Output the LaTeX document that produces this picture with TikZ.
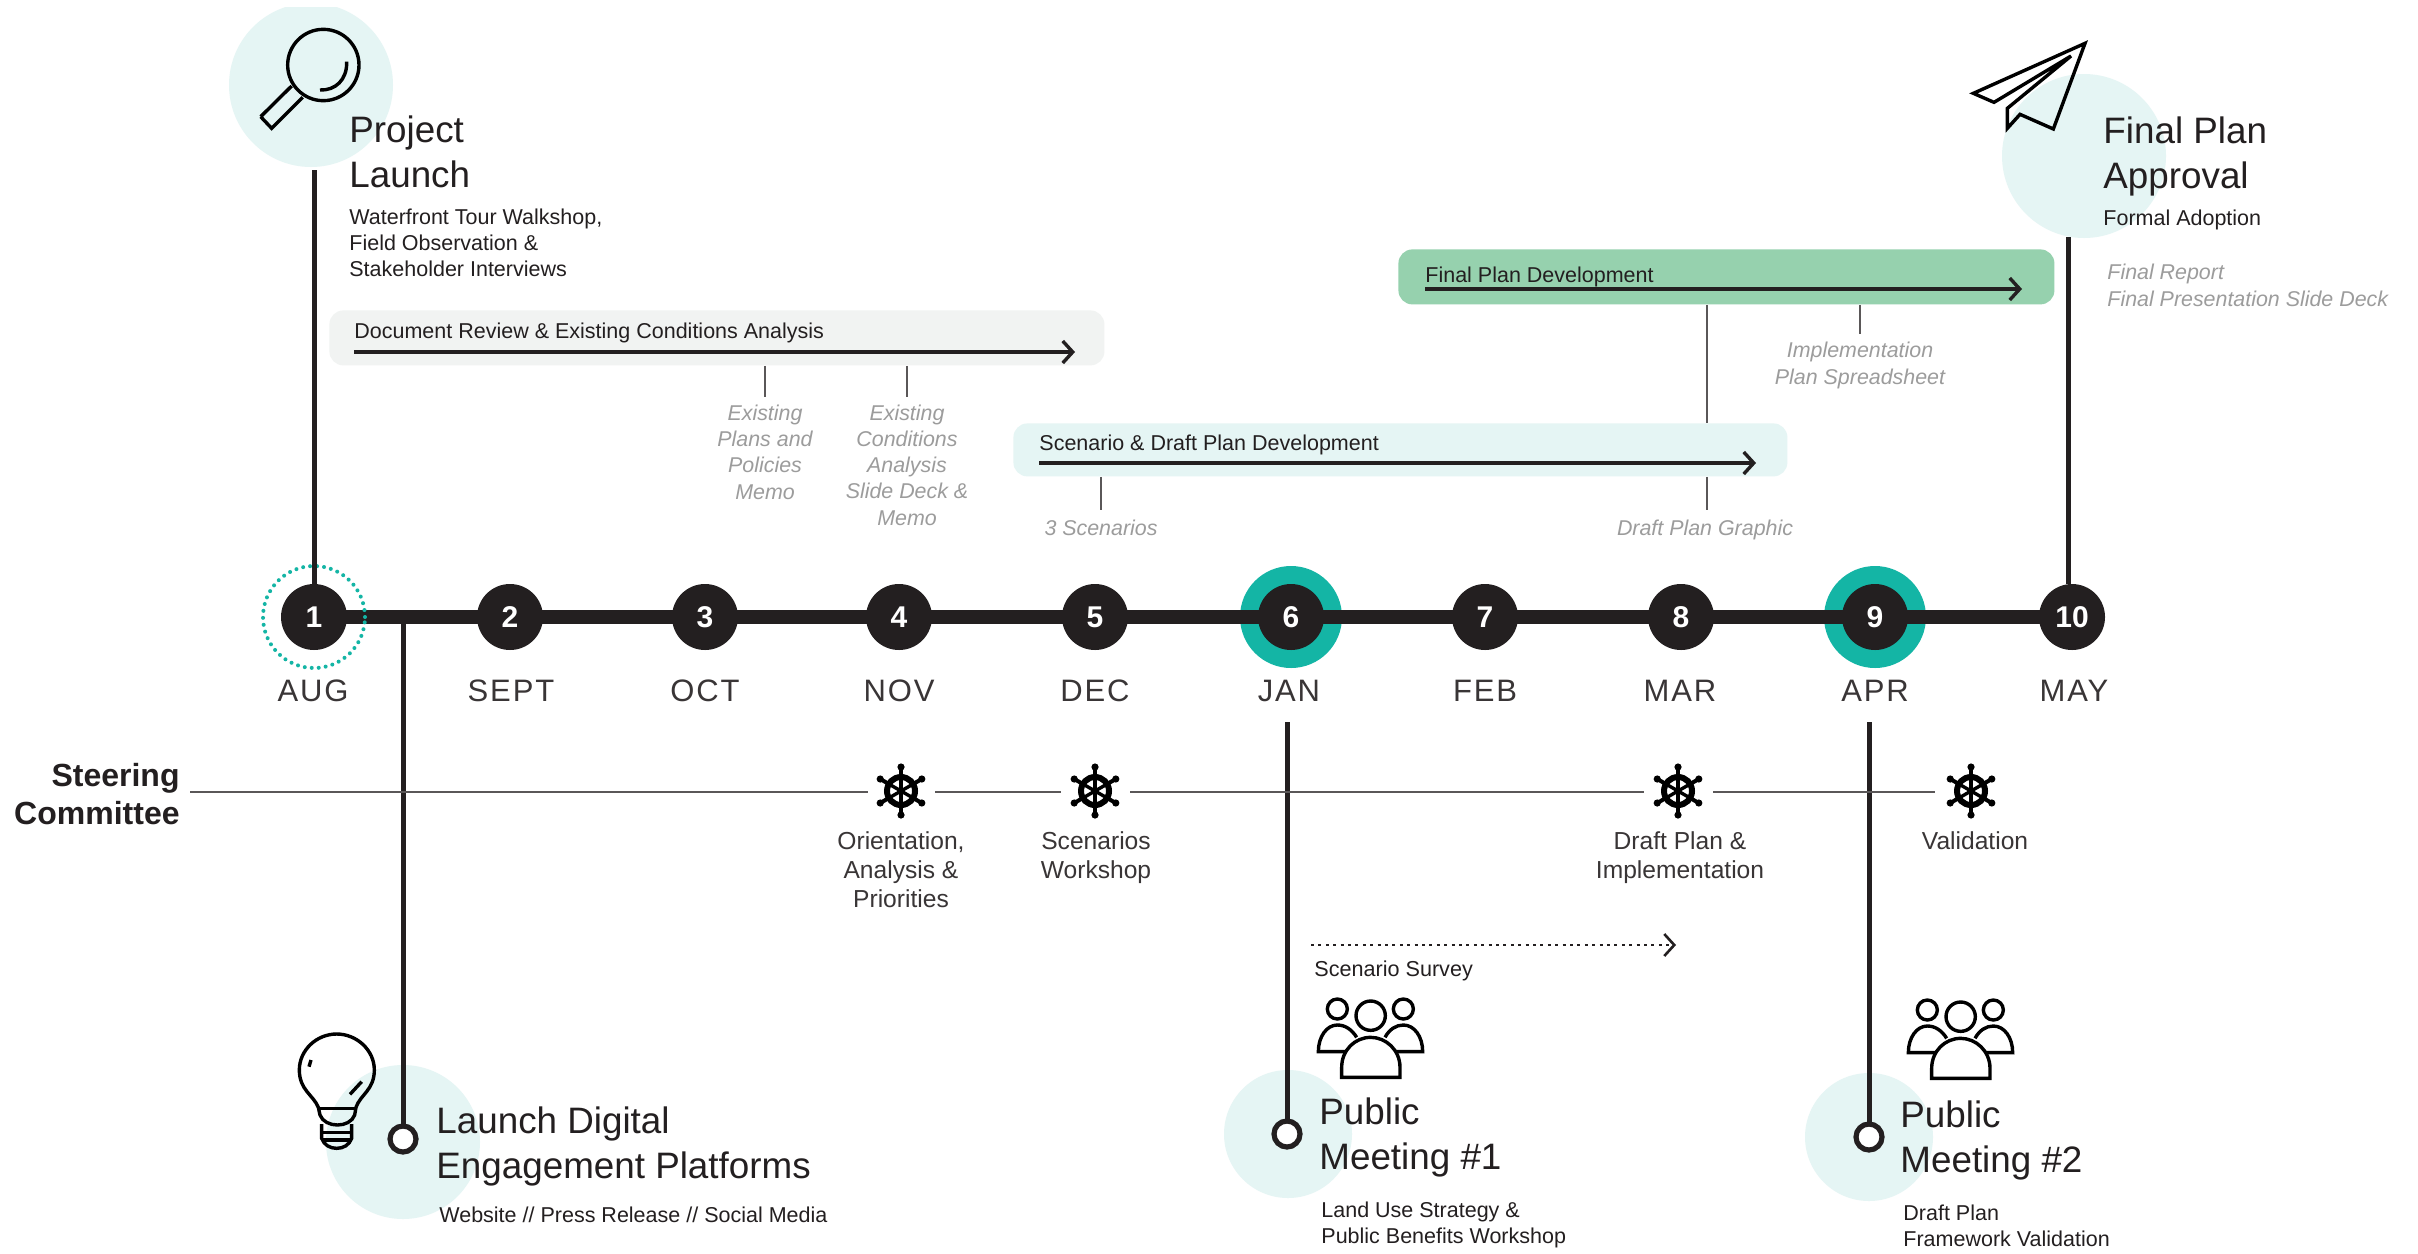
\documentclass[tikz,border=0pt]{standalone}
\usepackage{fontspec}
\setmainfont{Liberation Sans}
\newfontfamily\monthf[LetterSpace=6]{Liberation Sans}
\usetikzlibrary{arrows.meta}
\definecolor{ink}{HTML}{231F20}
\definecolor{teal}{HTML}{14B5A5}
\definecolor{pale}{HTML}{E5F5F4}
\definecolor{palegrey}{HTML}{F1F3F2}
\definecolor{mint}{HTML}{96D1AE}
\definecolor{note}{HTML}{9C9C9C}
\newcommand\fBig{\fontsize{18.4}{22.4}\selectfont}
\newcommand\fSub{\fontsize{10.75}{13}\selectfont}
\newcommand\fHelm{\fontsize{12.3}{14.5}\selectfont}
\newcommand\fNote{\fontsize{10.7}{13.05}\selectfont\itshape}
\tikzset{
  x=0.5pt,y=-0.5pt,
  num/.style={circle,fill=ink,text=white,minimum size=33pt,inner sep=0pt,font=\fontsize{15}{15}\selectfont\bfseries},
  mon/.style={inner sep=0pt,anchor=base,text=ink!90,font=\fontsize{15.5}{15.5}\selectfont\monthf},
  big/.style={inner sep=0pt,anchor=base west,align=left,text=ink,font=\fBig},
  sub/.style={inner sep=0pt,anchor=base west,align=left,text=ink,font=\fSub},
  notec/.style={inner sep=0pt,anchor=base,align=center,text=note,font=\fNote},
  notel/.style={inner sep=0pt,anchor=base west,align=left,text=note,font=\fNote},
  helmt/.style={inner sep=0pt,anchor=base,align=center,text=ink!90,font=\fHelm},
  bar/.style={rounded corners=7pt,inner sep=0pt,anchor=north west},
  stem/.style={draw=ink,line width=2.5pt},
  thin/.style={draw=ink!75,line width=0.6pt},
  flow/.style={draw=ink,line width=1.7pt,-{Straight Barb[length=5pt,width=11pt,line width=1.7pt]}},
  ring/.style={circle,draw=ink,line width=2.6pt,fill=white,minimum size=13pt,inner sep=0pt,outer sep=0pt},
  icon/.style={draw=black,line width=1.7pt,line join=miter},
  helm/.pic={
    \draw[black,line width=3pt] (0,0) circle (14);
    \foreach \a in {90,30,-30,-90,210,150}{
      \draw[black,line width=1.7pt] (0,0) -- ({\a}:14);
      \draw[black,line width=2pt] ({\a}:14) -- ({\a}:25);
      \fill[black] ({\a}:24) circle (3.6);
    }
    \fill[black] (0,0) circle (2.5);
  }
}
\begin{document}
\begin{tikzpicture}
\useasboundingbox (0,0) rectangle (2418,1253);
\fill[white] (0,0) rectangle (2418,1253);
% pale discs
\begin{scope}
\clip (0,7) rectangle (2418,1253);
\fill[pale] (311,85) circle (82);
\end{scope}
\fill[pale] (2084,156) circle (82);
\fill[pale] (403,1142) circle (77);
\fill[pale] (1288,1134) circle (64);
\fill[pale] (1869,1137) circle (64);
% bars
\node[bar,fill=palegrey,minimum width=387.5pt,minimum height=27.5pt] (docbar) at (329,310) {};
\node[bar,fill=pale,minimum width=387pt,minimum height=26.5pt] (scenbar) at (1013,423) {};
\node[bar,fill=mint,minimum width=328pt,minimum height=27.5pt] (finbar) at (1398,249) {};
\node[sub,anchor=base west] (doct) at (354,338) {Document Review \& Existing Conditions Analysis};
\node[sub,anchor=base west] (scent) at (1039,450) {Scenario \& Draft Plan Development};
\node[sub,anchor=base west] (fint) at (1425,282) {Final Plan Development};
\coordinate (da) at (354,352); \coordinate (db) at (1075,352);
\coordinate (sa) at (1039,463); \coordinate (sb) at (1756,463);
\coordinate (fa) at (1425,289); \coordinate (fb) at (2022,289);
\draw[flow] (da) -- (db);
\draw[flow] (sa) -- (sb);
\draw[flow] (fa) -- (fb);
% timeline
\coordinate (tl0) at (403,617);
\node[circle,fill=teal,minimum size=51pt,inner sep=0pt] (halo6) at (1291,617) {};
\node[circle,fill=teal,minimum size=51pt,inner sep=0pt] (halo9) at (1875,617) {};
\foreach \n/\x in {1/314,2/510,3/705,4/899,5/1095,6/1291,7/1485,8/1681,9/1875,10/2072}{
  \coordinate (p\n) at (\x,617);
}
\draw[ink,line width=7pt] (p1) -- (p10);
\node[circle,draw=teal,line width=2pt,dash pattern=on 0pt off 3.5pt,line cap=round,minimum size=51pt,inner sep=0pt] (dot1) at (314,617) {};
\foreach \n in {1,...,10}{
  \node[num] (n\n) at (p\n) {\n};
}
% month labels
\node[mon] (m1) at (313,701) {AUG};
\node[mon] (m2) at (511,701) {SEPT};
\node[mon] (m3) at (705,701) {OCT};
\node[mon] (m4) at (899,701) {NOV};
\node[mon] (m5) at (1095,701) {DEC};
\node[mon] (m6) at (1289,701) {JAN};
\node[mon] (m7) at (1485,701) {FEB};
\node[mon] (m8) at (1680,701) {MAR};
\node[mon] (m9) at (1875,701) {APR};
\node[mon] (m10) at (2074,701) {MAY};
% stems
\coordinate (s1) at (314,170);
\coordinate (s10) at (2068,237);
\coordinate (s6) at (1287,722);
\coordinate (s9) at (1869,722);
\node[ring] (r2) at (403,1139) {};
\node[ring] (r6) at (1287,1134) {};
\node[ring] (r9) at (1869,1137) {};
\draw[stem] (s1) -- (n1.north);
\draw[stem] (s10) -- (s10 |- n10.north);
\draw[stem] (tl0) -- (r2.north);
\draw[stem] (s6) -- (r6.north);
\draw[stem] (s9) -- (r9.north);
% notes
\node[notec] (nA) at (765,499) {Existing\\Plans and\\Policies\\Memo};
\node[notec] (nB) at (907,525) {Existing\\Conditions\\Analysis\\Slide Deck \&\\Memo};
\node[notec] (nC) at (1101,535) {3 Scenarios};
\node[notec] (nD) at (1705,535) {Draft Plan Graphic};
\node[notec] (nE) at (1860,384) {Implementation\\Plan Spreadsheet};
\node[notel] (nF) at (2107,306) {Final Report\\Final Presentation Slide Deck};
\coordinate (lA) at (765,397); \coordinate (lB) at (907,397);
\coordinate (lC) at (1101,510); \coordinate (lD) at (1707,510);
\coordinate (lE) at (1860,334);
\draw[thin] (docbar.south -| lA) -- (lA);
\draw[thin] (docbar.south -| lB) -- (lB);
\draw[thin] (scenbar.south -| lC) -- (lC);
\draw[thin] (scenbar.south -| lD) -- (lD);
\draw[thin] (finbar.south -| lE) -- (lE);
\draw[thin] (finbar.south -| lD) -- (scenbar.north -| lD);
% text blocks
\node[big] (t1) at (349,187) {Project\\Launch};
\node[sub] (t1b) at (349,276) {Waterfront Tour Walkshop,\\Field Observation \&\\Stakeholder Interviews};
\node[big] (t10) at (2103,188) {Final Plan\\Approval};
\node[sub] (t10b) at (2103,225) {Formal Adoption};
\node[big] (t2) at (436,1178) {Launch Digital\\Engagement Platforms};
\node[sub] (t2b) at (439,1222) {Website // Press Release // Social Media};
\node[big] (t6) at (1319,1169) {Public\\Meeting \#1};
\node[sub] (t6b) at (1321,1243) {Land Use Strategy \&\\Public Benefits Workshop};
\node[big] (t9) at (1900,1172) {Public\\Meeting \#2};
\node[sub] (t9b) at (1903,1246) {Draft Plan\\Framework Validation};
% steering committee
\node[inner sep=0pt,anchor=base east,align=right,text=ink,font=\fontsize{16}{18.7}\selectfont\bfseries] (sc) at (180,824) {Steering\\Committee};
\coordinate (h1) at (901,791); \coordinate (h2) at (1095,791);
\coordinate (h3) at (1678,791); \coordinate (h4) at (1971,791);
\coordinate (sc0) at (190,792);
\draw[thin] (sc0) -- (868,792);
\draw[thin] (935,792) -- (1061,792);
\draw[thin] (1130,792) -- (1644,792);
\draw[thin] (1713,792) -- (1935,792);
\path (h1) pic {helm}; \path (h2) pic {helm}; \path (h3) pic {helm}; \path (h4) pic {helm};
\node[helmt] (ht1) at (901,907) {Orientation,\\Analysis \&\\Priorities};
\node[helmt] (ht2) at (1096,878) {Scenarios\\Workshop};
\node[helmt] (ht3) at (1680,878) {Draft Plan \&\\Implementation};
\node[helmt] (ht4) at (1975,849) {Validation};
% survey
\coordinate (sv0) at (1311,945); \coordinate (sv1) at (1676,945);
\draw[draw=ink,line width=1.3pt,dash pattern=on 1.5pt off 2.2pt,-{Straight Barb[length=5pt,width=11pt,line width=1.3pt]}] (sv0) -- (sv1);
\node[sub,font=\fontsize{10.8}{13}\selectfont] (svt) at (1314,976) {Scenario Survey};
% magnifier
\begin{scope}[shift={(220,0)},scale=1/3]
\draw[icon] (310,195) circle (107);
\draw[icon] (380,185) .. controls (382,240) and (345,272) .. (300,270);
\draw[icon] (122,350) -- (155,385) -- (248,292) (215,258) -- (122,350);
\end{scope}
% plane
\begin{scope}[shift={(1920,20)},scale=1/3]
\draw[icon] (495,70) -- (160,220) -- (222,247) -- (453,108) -- (262,265) -- (262,325) -- (300,283) -- (400,327) -- cycle;
\end{scope}
% bulb
\begin{scope}[shift={(250,1000)},scale=1/3]
\draw[icon] (205,322) .. controls (190,285) and (148,270) .. (148,210) .. controls (148,150) and (200,102) .. (260,102) .. controls (320,102) and (373,150) .. (373,210) .. controls (373,270) and (330,285) .. (318,322) -- (314,345) .. controls (300,385) and (225,385) .. (210,345) -- cycle;
\draw[icon] (205,325) -- (318,325);
\draw[icon] (215,372) -- (215,415) .. controls (222,435) and (240,445) .. (260,445) .. controls (280,445) and (298,435) .. (305,415) -- (305,372);
\draw[icon] (215,397) -- (305,397);
\draw[icon] (215,420) -- (305,420);
\draw[icon] (183,180) -- (177,200);
\draw[icon] (335,245) -- (300,283);
\end{scope}
% people
\foreach \dx/\dy in {0/0,590/1}{
\begin{scope}[shift={(1220+\dx,980+\dy)},scale=1/3]
\draw[icon] (452,107) circle (44);
\draw[icon] (352,87) circle (30);
\draw[icon] (550,87) circle (30);
\draw[icon] (365,292) -- (540,292) -- (540,262) .. controls (540,210) and (498,172) .. (452,172) .. controls (405,172) and (365,210) .. (365,262) -- cycle;
\draw[icon] (378,215) -- (295,215) .. controls (295,170) and (320,135) .. (352,135) .. controls (375,135) and (395,148) .. (410,172);
\draw[icon] (528,215) -- (608,215) .. controls (608,170) and (583,135) .. (550,135) .. controls (528,135) and (508,148) .. (495,172);
\end{scope}
}
\end{tikzpicture}
\end{document}
